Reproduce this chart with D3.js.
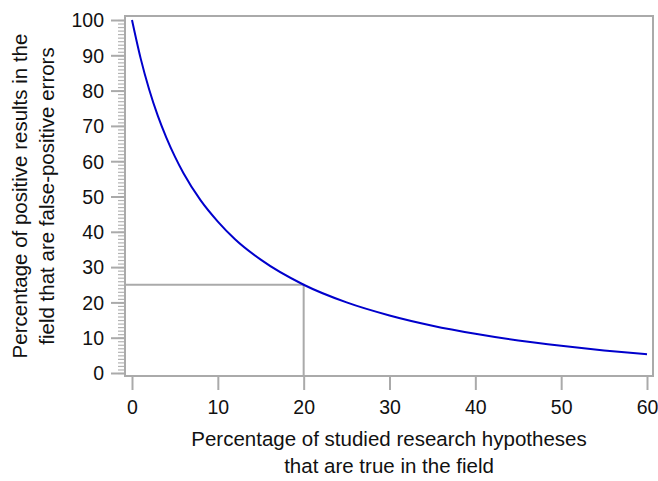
<!DOCTYPE html>
<html>
<meta charset="utf-8">
<head>
  <title>False-positive share vs. prior</title>
</head>

<style>
body { margin: 0; background: white; }
text {
  font-family: "Liberation Sans", Arial, Helvetica, sans-serif;
  fill: #111;
}
.frame { fill: none; stroke: #aaa; stroke-width: 2; }
.tick line { stroke: #aaa; stroke-width: 2; }
.domain { display: none; }
</style>

<body>
  <svg width="658" height="481"></svg>

  <script src="https://cdnjs.cloudflare.com/ajax/libs/d3/7.8.5/d3.min.js"></script>
  <script>

// values
var trueShare  = [0, 1, 2, 3, 4, 5, 6, 8, 10, 12, 15, 20, 25, 30, 35, 40, 45, 50, 55, 60];
var falsePos   = [100, 89.2, 80.3, 72.9, 66.7, 61.3, 56.6, 48.9, 42.9, 37.9, 32.1, 25, 20, 16.3, 13.4, 11.1, 9.2, 7.7, 6.4, 5.3];
var xTicks = [0, 10, 20, 30, 40, 50, 60];
var yTicks = [0, 10, 20, 30, 40, 50, 60, 70, 80, 90, 100];
var marker = {x: 20, y: 25};

var svg = d3.select('svg');

// plot frame
var frame = {left: 125, top: 16, right: 653, bottom: 376};

var x = d3.scaleLinear().domain([0, 60]).range([132, 647]);
var y = d3.scaleLinear().domain([0, 100]).range([373, 20]);

svg.append('rect')
  .attr('class', 'frame')
  .attr('x', frame.left)
  .attr('y', frame.top)
  .attr('width', frame.right - frame.left)
  .attr('height', frame.bottom - frame.top);

// y axis: majors every 10, minors every 1
svg.append('g')
  .attr('transform', 'translate(' + (frame.left - 1) + ',0)')
  .call(d3.axisLeft(y).tickValues(d3.range(0, 101, 1)).tickSize(6).tickFormat(''))
  .selectAll('.tick line').style('stroke-width', 1.2).style('stroke', '#b4b4b4');

var yAx = svg.append('g')
  .attr('transform', 'translate(' + (frame.left - 1) + ',0)')
  .call(d3.axisLeft(y).tickValues(yTicks).tickSize(13).tickPadding(7));
yAx.selectAll('text').style('font-size', '19.5px').attr('dy', '0.35em');

// x axis
var xAx = svg.append('g')
  .attr('transform', 'translate(0,' + (frame.bottom + 1) + ')')
  .call(d3.axisBottom(x).tickValues(xTicks).tickSize(13).tickPadding(10));
xAx.selectAll('text').style('font-size', '19.5px');

// reference lines at 20% / 25%
svg.append('path')
  .attr('d', 'M' + frame.left + ',' + y(marker.y) + 'H' + x(marker.x) + 'V' + frame.bottom)
  .attr('fill', 'none')
  .attr('stroke', '#aaa')
  .attr('stroke-width', 2);

// the curve
var line = d3.line()
  .x(function(d, i) { return x(trueShare[i]); })
  .y(function(d) { return y(d); })
  .curve(d3.curveMonotoneX);

svg.append('path')
  .datum(falsePos)
  .attr('d', line)
  .attr('fill', 'none')
  .attr('stroke', '#0000cc')
  .attr('stroke-width', 2);

// axis titles
var cx = (frame.left + frame.right) / 2;
svg.append('text').attr('x', cx).attr('y', 446).attr('text-anchor', 'middle')
  .style('font-size', '20.5px')
  .text('Percentage of studied research hypotheses');
svg.append('text').attr('x', cx).attr('y', 473).attr('text-anchor', 'middle')
  .style('font-size', '20.5px')
  .text('that are true in the field');

var cy = (frame.top + frame.bottom) / 2;
svg.append('text').attr('transform', 'translate(27,' + cy + ') rotate(-90)').attr('text-anchor', 'middle')
  .style('font-size', '20.5px')
  .text('Percentage of positive results in the');
svg.append('text').attr('transform', 'translate(54,' + cy + ') rotate(-90)').attr('text-anchor', 'middle')
  .style('font-size', '20.5px')
  .text('field that are false-positive errors');

  </script>
</body>
</html>
